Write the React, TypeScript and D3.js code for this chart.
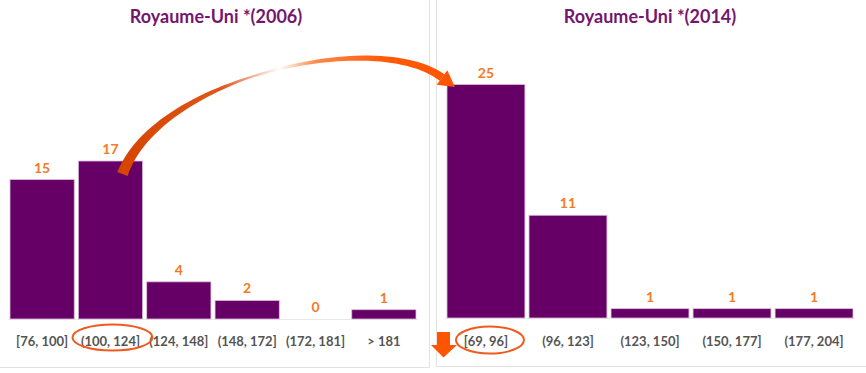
import React from 'react';
import * as d3 from 'd3';

// 2006 distribution
const cats2006 = ['[76, 100]', '(100, 124]', '(124, 148]', '(148, 172]', '(172, 181]', '> 181'];
const vals2006 = [15, 17, 4, 2, 0, 1];

// 2014 distribution
const cats2014 = ['[69, 96]', '(96, 123]', '(123, 150]', '(150, 177]', '(177, 204]'];
const vals2014 = [25, 11, 1, 1, 1];

const titles = ['Royaume-Uni *(2006)', 'Royaume-Uni *(2014)'];

const W = 866;
const H = 373;
const PURPLE = '#660066';
const ORANGE = '#F57A22';
const RED = '#F05A1E';
const FONT = 'Lato, "Open Sans", sans-serif';

const bezier = (p: number[][], t: number) => {
  const u = 1 - t;
  const a = u * u * u, b = 3 * u * u * t, c = 3 * u * t * t, d = t * t * t;
  return [
    a * p[0][0] + b * p[1][0] + c * p[2][0] + d * p[3][0],
    a * p[0][1] + b * p[1][1] + c * p[2][1] + d * p[3][1],
  ];
};

const App = () => {
  // scales
  const xL = d3.scaleBand().domain(cats2006).range([10, 416]).paddingInner(0.06);
  const yL = d3.scaleLinear().domain([0, 17]).range([319, 161]);
  const xR = d3.scaleBand().domain(cats2014).range([447, 853]).paddingInner(0.05);
  const yR = d3.scaleLinear().domain([0, 25]).range([318, 84.5]);

  // curved arrow from the 17 bar to the 25 bar
  const s = [xL(cats2006[1])! + xL.bandwidth() / 2 + 12, yL(17) + 13];
  const e = [xR(cats2014[0])! - 5, yR(25) - 7];
  const pts = [s, [s[0] + 35, 78], [375, 28], e];
  const n = 60;
  const wFn = (t: number) => (t < 0.45 ? 11 - 9 * (t / 0.45) : 2 + 6 * ((t - 0.45) / 0.55));
  const left: number[][] = [];
  const right: number[][] = [];
  for (let i = 0; i <= n; i++) {
    const t = i / n;
    const p = bezier(pts, t);
    const q = bezier(pts, Math.min(1, t + 0.001));
    const r = bezier(pts, Math.max(0, t - 0.001));
    let dx = q[0] - r[0], dy = q[1] - r[1];
    const len = Math.hypot(dx, dy);
    dx /= len; dy /= len;
    const w = wFn(t) / 2;
    left.push([p[0] - dy * w, p[1] + dx * w]);
    right.push([p[0] + dy * w, p[1] - dx * w]);
  }
  const shaft = d3.line()([...left, ...right.reverse()]) + 'Z';
  const dir = [pts[3][0] - pts[2][0], pts[3][1] - pts[2][1]];
  const dl = Math.hypot(dir[0], dir[1]);
  const ux = dir[0] / dl, uy = dir[1] / dl;
  const tip = [e[0] + ux * 16, e[1] + uy * 16];
  const head = d3.line()([
    [e[0] - uy * 9, e[1] + ux * 9],
    tip,
    [e[0] + uy * 9, e[1] - ux * 9],
  ]) + 'Z';

  const panel = (
    cats: string[], vals: number[], x: d3.ScaleBand<string>, y: d3.ScaleLinear<number, number>,
    title: string, cx: number, key: string,
  ) => (
    <g key={key}>
      <text x={cx} y={23} textAnchor="middle" fontFamily={FONT} fontWeight="bold" fontSize={18} fill="#74166F">{title}</text>
      <line x1={x.range()[0] - 2} x2={x.range()[1] + 2} y1={y(0) + 0.5} y2={y(0) + 0.5} stroke="#e8e8e8" />
      {cats.map((c, i) => (
        <g key={c}>
          {vals[i] > 0 && (
            <rect x={x(c)} y={y(vals[i])} width={x.bandwidth()} height={y(0) - y(vals[i])}
              fill={PURPLE} stroke="#d9bfd9" strokeWidth={0.8} />
          )}
          <text x={x(c)! + x.bandwidth() / 2} y={y(vals[i]) - 7} textAnchor="middle"
            fontFamily={FONT} fontWeight="bold" fontSize={14} fill={ORANGE}>{vals[i]}</text>
          <text x={x(c)! + x.bandwidth() / 2} y={346} textAnchor="middle"
            fontFamily={FONT} fontWeight="bold" fontSize={13} fill="#555555">{c}</text>
        </g>
      ))}
    </g>
  );

  return (
    <svg width={W} height={H} style={{ position: 'absolute', left: 0, top: 0, background: '#fff' }}>
      <defs>
        <linearGradient id="arrowGrad" gradientUnits="userSpaceOnUse" x1={s[0]} y1={0} x2={tip[0]} y2={0}>
          <stop offset="0" stopColor="#D64400" />
          <stop offset="0.3" stopColor="#E0561A" />
          <stop offset="0.47" stopColor="#ffffff" />
          <stop offset="0.58" stopColor="#FF8A4D" />
          <stop offset="0.78" stopColor="#FF5A0A" />
          <stop offset="1" stopColor="#FF5500" />
        </linearGradient>
      </defs>

      {/* panel frames */}
      <path d="M429.5,0 V367.5 H0" fill="none" stroke="#e2e2e2" />
      <path d="M436.5,0 V366.5 H866" fill="none" stroke="#e2e2e2" />

      {panel(cats2006, vals2006, xL, yL, titles[0], 216, 'p06')}
      {panel(cats2014, vals2014, xR, yR, titles[1], 650, 'p14')}

      {/* highlight ellipses */}
      <ellipse cx={xL(cats2006[1])! + xL.bandwidth() / 2 + 2} cy={337.5} rx={40} ry={13}
        fill="none" stroke={RED} strokeWidth={2} />
      <ellipse cx={xR(cats2014[0])! + xR.bandwidth() / 2 + 4} cy={340} rx={34} ry={13.5}
        fill="none" stroke={RED} strokeWidth={2} />

      {/* down arrow */}
      <path d="M437,332 H450 V345 H457 L443.5,357.5 L431,345 H437 Z" fill="#FF5500" />

      {/* curved arrow */}
      <path d={shaft} fill="url(#arrowGrad)" />
      <path d={head} fill="#FF5500" />
    </svg>
  );
};

export default App;
